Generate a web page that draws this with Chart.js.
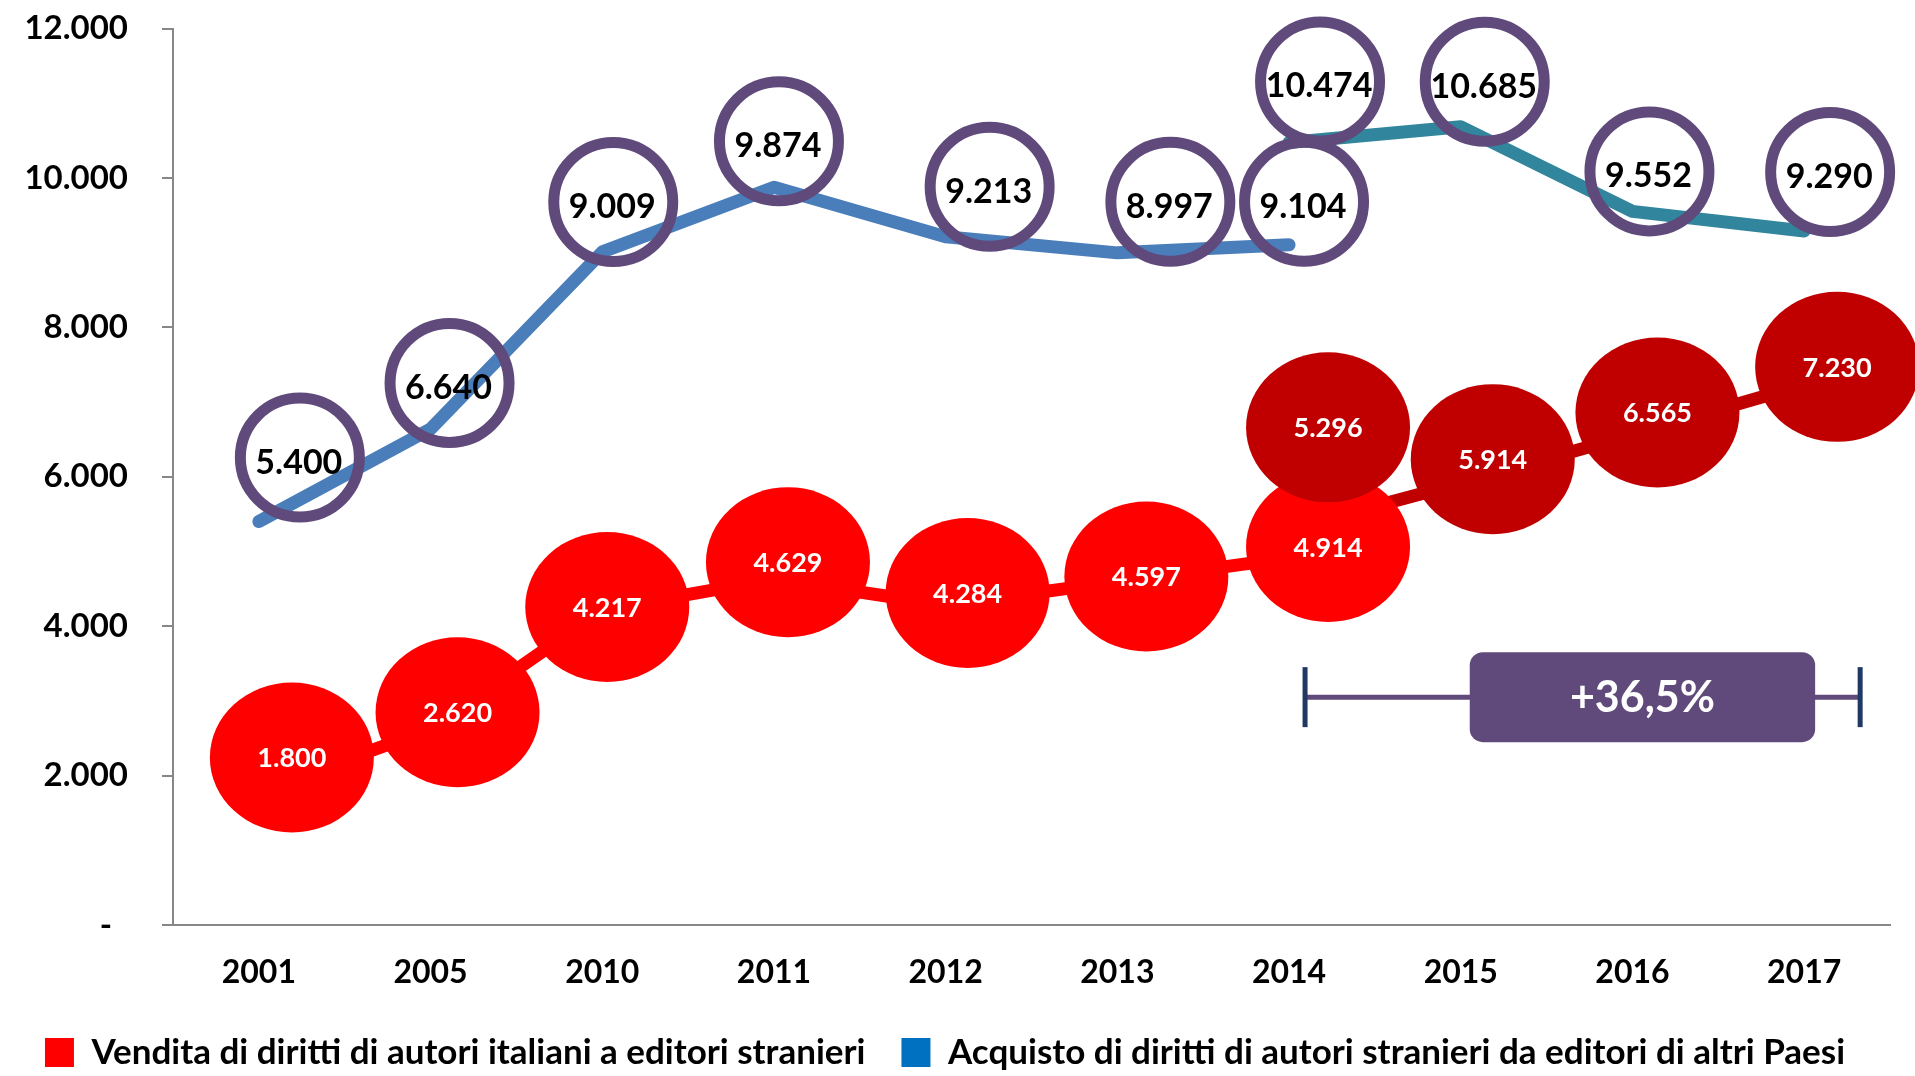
<!DOCTYPE html>
<html>
<head>
<meta charset="utf-8">
<script src="https://cdn.jsdelivr.net/npm/chart.js@4.4.1/dist/chart.umd.min.js"></script>
<style>
  html, body { margin: 0; padding: 0; background: #ffffff; }
  #wrap { width: 1915px; height: 1076px; }
</style>
</head>
<body>
<div id="wrap"><canvas id="c" width="1915" height="1076"></canvas></div>
<script>
// ---------- data ----------
const categories = ['2001', '2005', '2010', '2011', '2012', '2013', '2014', '2015', '2016', '2017'];
const venditaFino2014 = [1800, 2620, 4217, 4629, 4284, 4597, 4914, null, null, null];
const venditaDal2014  = [null, null, null, null, null, null, 5296, 5914, 6565, 7230];
const acquistoFino2014 = [5400, 6640, 9009, 9874, 9213, 8997, 9104, null, null, null];
const acquistoDal2014  = [null, null, null, null, null, null, 10474, 10685, 9552, 9290];
const yTickValues = [0, 2000, 4000, 6000, 8000, 10000, 12000];
const legendTexts = ['Vendita di diritti di autori italiani a editori stranieri',
                     'Acquisto di diritti di autori stranieri da editori di altri Paesi'];
const variazioneLabel = '+36,5%';

// ---------- styling (label shape offsets in px, relative to each point) ----------
const FONT = 'Lato, "Open Sans", "DejaVu Sans", sans-serif';
const offRed   = [[33,-33],[27,-17],[5,-3],[14,-17],[22,-12],[29,-5],[39,-11],null,null,null];
const offDark  = [null,null,null,null,null,null,[39,-102],[32,-24],[25,-22],[33,-18]];
const offBlue  = [[41,-64],[19,-46],[11,-50],[5,-46],[44,-50],[53,-51],[15,-43],null,null,null];
const offTeal  = [null,null,null,null,null,null,[31,-61],[24,-45],[17,-40],[26,-59]];

function fmt(v) {
  return String(Math.round(v)).replace(/\B(?=(\d{3})+(?!\d))/g, '.');
}

const PAD_BOTTOM = -4;
const PLOT_TOP = 28.5;
const PLOT_BOTTOM = 925;

const bubblePlugin = {
  id: 'bubbleLabels',
  afterDatasetsDraw(chart) {
    const ctx = chart.ctx;
    const specs = [
      { ds: 2, off: offBlue, kind: 'ring' },
      { ds: 3, off: offTeal, kind: 'ring' },
      { ds: 0, off: offRed,  kind: 'fill', color: '#FF0000' },
      { ds: 1, off: offDark, kind: 'fill', color: '#C00000' }
    ];
    specs.forEach(s => {
      const meta = chart.getDatasetMeta(s.ds);
      const data = chart.data.datasets[s.ds].data;
      meta.data.forEach((pt, i) => {
        const v = data[i];
        if (v === null || v === undefined || !s.off[i]) return;
        const cx = pt.x + s.off[i][0];
        const cy = pt.y + s.off[i][1];
        ctx.save();
        ctx.beginPath();
        if (s.kind === 'ring') {
          ctx.ellipse(cx, cy, 59.5, 59.5, 0, 0, Math.PI * 2);
          ctx.lineWidth = 11;
          ctx.strokeStyle = '#604A7B';
          ctx.stroke();
          ctx.fillStyle = '#000000';
          ctx.font = 'bold 34px ' + FONT;
          ctx.textAlign = 'center';
          ctx.textBaseline = 'middle';
          ctx.fillText(fmt(v), cx - 1, cy + 5);
        } else {
          ctx.ellipse(cx, cy, 82, 75, 0, 0, Math.PI * 2);
          ctx.fillStyle = s.color;
          ctx.fill();
          ctx.fillStyle = '#FFFFFF';
          ctx.font = 'bold 27px ' + FONT;
          ctx.textAlign = 'center';
          ctx.textBaseline = 'middle';
          ctx.fillText(fmt(v), cx, cy + 1);
        }
        ctx.restore();
      });
    });
  }
};

const bracketPlugin = {
  id: 'bracket',
  afterDraw(chart) {
    const ctx = chart.ctx;
    const xs = chart.scales.x, ys = chart.scales.y;
    const y = ys.getPixelForValue(3050);
    const xl = xs.getPixelForValue(6) + 16;
    const xr = xs.getPixelForValue(9) + 56;
    const rx1 = xs.getPixelForValue(7) + 9;
    const rx2 = xs.getPixelForValue(9) + 11;
    ctx.save();
    ctx.strokeStyle = '#604A7B';
    ctx.lineWidth = 5;
    ctx.beginPath(); ctx.moveTo(xl, y); ctx.lineTo(xr, y); ctx.stroke();
    ctx.strokeStyle = '#1F3864';
    ctx.lineWidth = 5;
    ctx.beginPath(); ctx.moveTo(xl, y - 30); ctx.lineTo(xl, y + 30); ctx.stroke();
    ctx.beginPath(); ctx.moveTo(xr, y - 30); ctx.lineTo(xr, y + 30); ctx.stroke();
    ctx.fillStyle = '#604A7B';
    ctx.beginPath();
    ctx.roundRect(rx1, y - 45, rx2 - rx1, 90, 13);
    ctx.fill();
    ctx.fillStyle = '#FFFFFF';
    ctx.font = 'bold 43px ' + FONT;
    ctx.textAlign = 'center';
    ctx.textBaseline = 'middle';
    ctx.fillText(variazioneLabel, (rx1 + rx2) / 2, y + 1);
    ctx.restore();
  }
};

const lineStyle = { pointRadius: 0, pointHoverRadius: 0, borderWidth: 13, tension: 0,
                    borderCapStyle: 'round', borderJoinStyle: 'round', spanGaps: false, fill: false };

new Chart(document.getElementById('c'), {
  type: 'line',
  data: {
    labels: categories,
    datasets: [
      Object.assign({ label: legendTexts[0], data: venditaFino2014, borderColor: '#FF0000', backgroundColor: '#FF0000' }, lineStyle),
      Object.assign({ label: legendTexts[0] + ' (2014-2017)', data: venditaDal2014, borderColor: '#C00000', backgroundColor: '#C00000' }, lineStyle),
      Object.assign({ label: legendTexts[1], data: acquistoFino2014, borderColor: '#4A7EBB', backgroundColor: '#0070C0' }, lineStyle),
      Object.assign({ label: legendTexts[1] + ' (2014-2017)', data: acquistoDal2014, borderColor: '#31859C', backgroundColor: '#31859C' }, lineStyle)
    ]
  },
  options: {
    responsive: false,
    animation: false,
    devicePixelRatio: 1,
    layout: { padding: { top: PLOT_TOP, right: 25, left: 0, bottom: PAD_BOTTOM } },
    plugins: {
      tooltip: { enabled: false },
      legend: {
        position: 'bottom',
        labels: {
          boxWidth: 29,
          boxHeight: 29,
          padding: 36,
          color: '#000000',
          font: { family: FONT, size: 35, weight: 'bold' },
          generateLabels() {
            return [
              { text: legendTexts[0], fillStyle: '#FF0000', strokeStyle: '#FF0000', lineWidth: 0, hidden: false, datasetIndex: 0 },
              { text: legendTexts[1], fillStyle: '#0070C0', strokeStyle: '#0070C0', lineWidth: 0, hidden: false, datasetIndex: 2 }
            ];
          }
        }
      }
    },
    scales: {
      x: {
        offset: true,
        grid: { display: false, drawTicks: false },
        border: { display: true, color: '#878787', width: 2 },
        ticks: { color: '#000000', padding: 28, font: { family: FONT, size: 32, weight: 'bold' }, maxRotation: 0 },
        afterFit(scale) {
          scale.height = scale.chart.height - PLOT_BOTTOM - scale.chart.legend.height - PAD_BOTTOM;
        }
      },
      y: {
        min: 0,
        max: 12000,
        afterBuildTicks(scale) { scale.ticks = yTickValues.map(v => ({ value: v })); },
        grid: { drawOnChartArea: false, drawTicks: true, tickLength: 11, color: '#878787', lineWidth: 2 },
        border: { display: true, color: '#878787', width: 2 },
        ticks: {
          color: '#000000',
          padding: 34,
          font: { family: FONT, size: 33, weight: 'bold' },
          callback: (v) => v === 0 ? '-  ' : fmt(v)
        },
        afterFit(scale) {
          scale.width = 173;
          scale.paddingTop = 0;
          scale.paddingBottom = 0;
        }
      }
    }
  },
  plugins: [bubblePlugin, bracketPlugin]
});
</script>
</body>
</html>
